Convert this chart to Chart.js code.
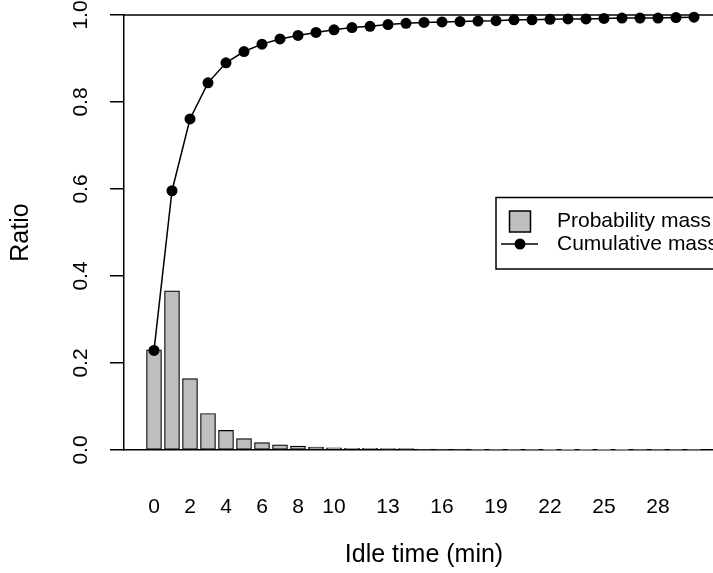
<!DOCTYPE html>
<html>
<head>
<meta charset="utf-8">
<script src="https://cdn.jsdelivr.net/npm/chart.js@4.4.1/dist/chart.umd.min.js"></script>
<style>
    html, body { margin: 0; padding: 0; background: #fff; overflow: hidden; }
    #wrap { position: relative; width: 760px; height: 573px; }
</style>
</head>
<body>
<div id="wrap"><canvas id="myChart"></canvas></div>
<script>
// values
var idleMinutes = [0, 1, 2, 3, 4, 5, 6, 7, 8, 9, 10, 11, 12, 13, 14, 15,
    16, 17, 18, 19, 20, 21, 22, 23, 24, 25, 26, 27, 28, 29, 30];
var probabilityMass = [0.230, 0.366, 0.164, 0.084, 0.045, 0.026, 0.017, 0.012, 0.009, 0.007,
    0.005, 0.004, 0.004, 0.003, 0.003, 0.002, 0.002, 0.002, 0.0015, 0.0013,
    0.0012, 0.0011, 0.001, 0.001, 0.0009, 0.0008, 0.0008, 0.0007, 0.0006, 0.0006, 0.0005];
var cumulativeMass = [0.229, 0.596, 0.761, 0.844, 0.890, 0.916, 0.933, 0.945, 0.953, 0.960,
    0.966, 0.971, 0.974, 0.978, 0.981, 0.983, 0.984, 0.985, 0.986, 0.987,
    0.989, 0.989, 0.990, 0.991, 0.991, 0.992, 0.993, 0.993, 0.993, 0.994, 0.995];
var xTickLabels = [0, 2, 4, 6, 8, 10, 13, 16, 19, 22, 25, 28];
var yTickLabels = [0.0, 0.2, 0.4, 0.6, 0.8, 1.0];

var seriesNames = ['Probability mass', 'Cumulative mass'];

Chart.defaults.font.family = '"Liberation Sans", Arial, Helvetica, sans-serif';
Chart.defaults.color = '#000';

function points(values) {
    return idleMinutes.map(function (m, i) { return { x: m, y: values[i] }; });
}

// no extra room for half labels at the ends of the axes
function noEndPadding(scale) {
    scale.paddingTop = 0;
    scale.paddingBottom = 0;
    scale.paddingLeft = 0;
    scale.paddingRight = 0;
}

// legend box + top frame line, drawn like R's legend()
var legendBox = {
    id: 'legendBox',
    afterDatasetsDraw: function (chart) {
        var ctx = chart.ctx;
        var area = chart.chartArea;
        ctx.save();
        ctx.strokeStyle = '#000';
        ctx.lineWidth = 1.5;
        ctx.beginPath();
        ctx.moveTo(area.left, area.top);
        ctx.lineTo(area.right, area.top);
        ctx.stroke();

        ctx.fillStyle = '#fff';
        ctx.fillRect(496, 197.5, 300, 71.5);
        ctx.strokeRect(496, 197.5, 300, 71.5);

        ctx.fillStyle = '#bebebe';
        ctx.fillRect(509.5, 211, 21, 21);
        ctx.strokeRect(509.5, 211, 21, 21);

        ctx.beginPath();
        ctx.moveTo(501, 244);
        ctx.lineTo(538, 244);
        ctx.stroke();
        ctx.fillStyle = '#000';
        ctx.beginPath();
        ctx.arc(520, 244, 5.5, 0, Math.PI * 2);
        ctx.fill();

        ctx.font = '21px "Liberation Sans", Arial, sans-serif';
        ctx.textBaseline = 'middle';
        ctx.textAlign = 'left';
        ctx.fillText(chart.data.datasets[1].label, 557, 221);
        ctx.fillText(chart.data.datasets[0].label, 557, 244);
        ctx.restore();
    }
};

var ctx = document.getElementById('myChart').getContext('2d');
var myChart = new Chart(ctx, {
    data: {
        datasets: [{
            type: 'line',
            label: seriesNames[1],
            data: points(cumulativeMass),
            borderColor: '#000',
            borderWidth: 1.5,
            backgroundColor: '#000',
            pointBackgroundColor: '#000',
            pointBorderColor: '#000',
            pointRadius: 5.5,
            pointBorderWidth: 0,
            tension: 0,
            clip: false,
            order: 0
        }, {
            type: 'bar',
            label: seriesNames[0],
            data: points(probabilityMass),
            backgroundColor: '#bebebe',
            borderColor: '#000',
            borderWidth: 1.2,
            borderSkipped: false,
            barThickness: 15,
            order: 1
        }]
    },
    options: {
        responsive: true,
        maintainAspectRatio: false,
        animation: false,
        layout: { padding: { top: 15, right: 36, bottom: 0, left: 0 } },
        plugins: {
            legend: { display: false },
            tooltip: { enabled: false }
        },
        scales: {
            x: {
                type: 'linear',
                offset: false,
                min: -30 / 18,
                max: 570 / 18,
                afterFit: function (scale) {
                    scale.height = 123;
                    noEndPadding(scale);
                },
                afterBuildTicks: function (scale) {
                    scale.ticks = xTickLabels.map(function (v) { return { value: v }; });
                },
                grid: { display: false, offset: false },
                border: { display: true, color: '#000', width: 1.5 },
                ticks: {
                    autoSkip: false,
                    maxRotation: 0,
                    padding: 37,
                    font: { size: 21 },
                    callback: function (v) { return String(v); }
                },
                title: {
                    display: true,
                    text: 'Idle time (min)',
                    font: { size: 25, lineHeight: 1.2 },
                    padding: { top: 0, bottom: 3 }
                }
            },
            y: {
                min: 0,
                max: 1,
                afterFit: function (scale) {
                    scale.width = 124;
                    noEndPadding(scale);
                },
                afterBuildTicks: function (scale) {
                    scale.ticks = yTickLabels.map(function (v) { return { value: v }; });
                },
                grid: {
                    drawOnChartArea: false,
                    drawTicks: true,
                    tickLength: 14,
                    color: '#000',
                    lineWidth: 1.5
                },
                border: { display: true, color: '#000', width: 1.5 },
                ticks: {
                    minRotation: 90,
                    maxRotation: 90,
                    crossAlign: 'center',
                    padding: 14,
                    font: { size: 21 },
                    callback: function (v) { return v.toFixed(1); }
                },
                title: {
                    display: true,
                    text: 'Ratio',
                    font: { size: 25, lineHeight: 1.2 },
                    padding: { top: 6, bottom: 0 }
                }
            }
        }
    },
    plugins: [legendBox]
});
</script>
</body>
</html>
